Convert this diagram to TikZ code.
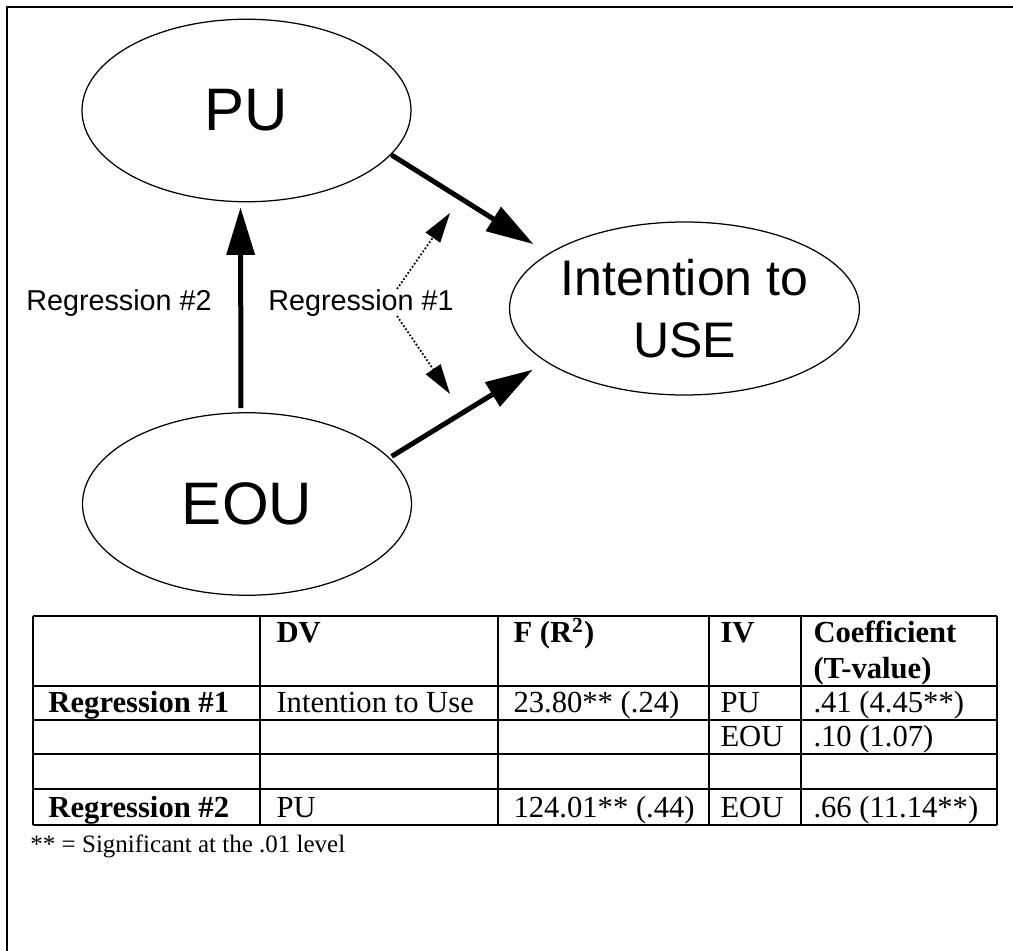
\documentclass[tikz,border=0pt]{standalone}
\usepackage{fontspec}
\setmainfont{Liberation Serif}
\newfontfamily\arialfont{Liberation Sans}
\usetikzlibrary{positioning}
\usetikzlibrary{arrows.meta}
\usetikzlibrary{shapes.geometric}

\begin{document}
\begin{tikzpicture}[x=0.4pt, y=-0.4pt,
  construct/.style={ellipse, draw, line width=0.5pt, inner sep=0pt, minimum width=131.6pt, minimum height=73pt, font=\arialfont\fontsize{24}{28}\selectfont},
  bigarrow/.style={line width=2pt, -{Triangle[length=19pt, width=11pt]}},
  dotarrow/.style={line width=0.7pt, dash pattern=on 0.7pt off 0.8pt, -{Triangle[length=12pt, width=7pt]}},
  reglabel/.style={font=\arialfont\fontsize{11.5}{14}\selectfont, inner sep=0pt},
  cell/.style={anchor=base west, inner sep=0pt, font=\fontsize{12.25}{15}\selectfont},
  tablerule/.style={line width=0.8pt}]

\useasboundingbox (0,0) rectangle (1013,951);
\clip (0,0) rectangle (1013,951);

% outer frame
\draw [line width=0.8pt] (6.5,7) rectangle (1040,980);

% the three constructs
\node [construct] (pu) at (246.5,110.5) {PU};
\node [construct] (eou) at (247,504) {EOU};
\node [construct, minimum height=69.2pt, align=center, font=\arialfont\fontsize{20}{25}\selectfont] (intent) at (684.5,308.5) {Intention to\\USE};

\node [reglabel] (reg2) at (119,303) {Regression \#2};
\node [reglabel] (reg1) at (361,303) {Regression \#1};

% regression #2
\draw [bigarrow, shorten <=1.6pt, shorten >=2pt] ([xshift=-2.4pt]eou.north) -- ([xshift=-2.4pt]pu.south);

% regression #1
\draw [bigarrow] (pu.-17) -- (intent.158) [shorten >=7pt];
\draw [bigarrow, shorten <=1pt, shorten >=6pt] (eou.18) -- (intent.-159);

\coordinate (d1) at (397,289);
\coordinate (d1e) at (450,213);
\coordinate (d2) at (397,316);
\coordinate (d2e) at (450,394);
\draw [dotarrow] (d1) -- (d1e);
\draw [dotarrow] (d2) -- (d2e);

% results table
\draw [tablerule] (33,616) -- (997,616);
\draw [tablerule] (33,686) -- (997,686);
\draw [tablerule] (33,720) -- (997,720);
\draw [tablerule] (33,754) -- (997,754);
\draw [tablerule] (33,789) -- (997,789);
\draw [tablerule] (33,825) -- (997,825);
\draw [tablerule] (33,616) -- (33,825);
\draw [tablerule] (260,616) -- (260,825);
\draw [tablerule] (498,616) -- (498,825);
\draw [tablerule] (709,616) -- (709,825);
\draw [tablerule] (801,616) -- (801,825);
\draw [tablerule] (997,616) -- (997,825);

\node [cell] (hdv) at (276,643) {\textbf{DV}};
\node [cell] (hf) at (513,643) {\textbf{F (R\textsuperscript{2})}};
\node [cell] (hiv) at (720,643) {\textbf{IV}};
\node [cell] (hco) at (813,643) {\textbf{Coefficient}};
\node [cell] (hco2) at (813,678) {\textbf{(T-value)}};

\node [cell] (r1) at (48,712) {\textbf{Regression \#1}};
\node [cell] (r1dv) at (276,712) {Intention to Use};
\node [cell] (r1f) at (513,712) {23.80** (.24)};
\node [cell] (r1iv) at (720,712) {PU};
\node [cell] (r1co) at (813,712) {.41 (4.45**)};
\node [cell] (r2iv) at (720,746) {EOU};
\node [cell] (r2co) at (813,746) {.10 (1.07)};

\node [cell] (r4) at (48,817) {\textbf{Regression \#2}};
\node [cell] (r4dv) at (276,817) {PU};
\node [cell] (r4f) at (513,817) {124.01** (.44)};
\node [cell] (r4iv) at (720,817) {EOU};
\node [cell] (r4co) at (813,817) {.66 (11.14**)};

\node [cell, font=\fontsize{10}{12}\selectfont] (note) at (30,852) {** = Significant at the .01 level};

\end{tikzpicture}
\end{document}
